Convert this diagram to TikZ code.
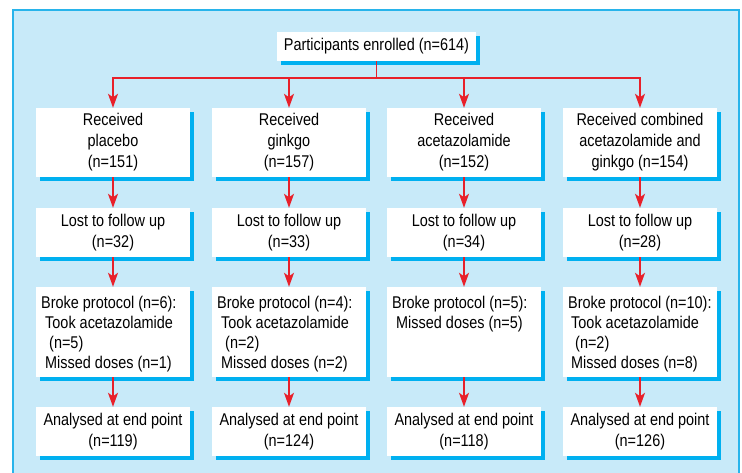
\documentclass[tikz,border=0pt]{standalone}
\usepackage{fontspec}
\setmainfont{Liberation Sans}[FakeStretch=0.85]
\usetikzlibrary{arrows.meta,shadows}
\definecolor{panelfill}{RGB}{200,234,249}
\definecolor{panelline}{RGB}{40,180,235}
\definecolor{shadowc}{RGB}{0,176,240}
\definecolor{arrowred}{RGB}{232,32,42}
\begin{document}
\begin{tikzpicture}[x=1pt,y=-1pt,
  box/.style={draw=none,fill=white,inner sep=0pt,align=center,
    font=\fontsize{17}{21}\selectfont,
    drop shadow={shadow xshift=4pt,shadow yshift=-4pt,fill=shadowc,opacity=1}},
  bw/.style={minimum width=154pt},
  lefttext/.style={inner sep=0pt,align=left,anchor=north west,
    font=\fontsize{17}{20}\selectfont},
  link/.style={draw=arrowred,line width=1.5pt},
  arr/.style={link,-{Stealth[length=14pt,width=10pt,inset=3.5pt]}}]
\useasboundingbox (0,0) rectangle (742,473);
\draw[fill=panelfill,draw=panelline,line width=1.2pt] (13,10) rectangle (739,490);
% top
\node[box,minimum width=199pt,minimum height=29pt] (top) at (376.5,46.5) {Participants enrolled (n=614)};
\coordinate (j) at (376.5,78);
% row 1
\node[box,bw,minimum height=69pt] (a1) at (113,142.5) {Received\\placebo\\(n=151)};
\node[box,bw,minimum height=69pt] (a2) at (289,142.5) {Received\\ginkgo\\(n=157)};
\node[box,bw,minimum height=69pt] (a3) at (464,142.5) {Received\\acetazolamide\\(n=152)};
\node[box,bw,minimum height=69pt] (a4) at (640,142.5) {Received combined\\acetazolamide and\\ginkgo (n=154)};
% row 2
\node[box,bw,minimum height=49pt] (b1) at (113,232.5) {Lost to follow up\\(n=32)};
\node[box,bw,minimum height=49pt] (b2) at (289,232.5) {Lost to follow up\\(n=33)};
\node[box,bw,minimum height=49pt] (b3) at (464,232.5) {Lost to follow up\\(n=34)};
\node[box,bw,minimum height=49pt] (b4) at (640,232.5) {Lost to follow up\\(n=28)};
% row 3
\node[box,bw,minimum height=90pt] (c1) at (113,332) {};
\node[box,bw,minimum height=90pt] (c2) at (289,332) {};
\node[box,bw,minimum height=90pt] (c3) at (464,332) {};
\node[box,bw,minimum height=90pt] (c4) at (640,332) {};
\node[lefttext] (c1t) at (41,295.5) {Broke protocol (n=6):\\\hspace*{4pt}Took acetazolamide\\\hspace*{8pt}(n=5)\\\hspace*{4pt}Missed doses (n=1)};
\node[lefttext] (c2t) at (217,295.5) {Broke protocol (n=4):\\\hspace*{4pt}Took acetazolamide\\\hspace*{8pt}(n=2)\\\hspace*{4pt}Missed doses (n=2)};
\node[lefttext] (c3t) at (392,295.5) {Broke protocol (n=5):\\\hspace*{4pt}Missed doses (n=5)};
\node[lefttext] (c4t) at (568,295.5) {Broke protocol (n=10):\\\hspace*{3pt}Took acetazolamide\\\hspace*{7pt}(n=2)\\\hspace*{3pt}Missed doses (n=8)};
% row 4
\node[box,bw,minimum height=49pt] (d1) at (113,431.5) {Analysed at end point\\(n=119)};
\node[box,bw,minimum height=49pt] (d2) at (289,431.5) {Analysed at end point\\(n=124)};
\node[box,bw,minimum height=49pt] (d3) at (464,431.5) {Analysed at end point\\(n=118)};
\node[box,bw,minimum height=49pt] (d4) at (640,431.5) {Analysed at end point\\(n=126)};
% connectors
\draw[link] (top.south) -- (j);
\foreach \i in {1,2,3,4}{
  \draw[arr] (j) -| (a\i.north);
  \draw[arr] (a\i.south) -- (b\i.north);
  \draw[arr] (b\i.south) -- (c\i.north);
  \draw[arr] (c\i.south) -- (d\i.north);
}
\end{tikzpicture}
\end{document}
